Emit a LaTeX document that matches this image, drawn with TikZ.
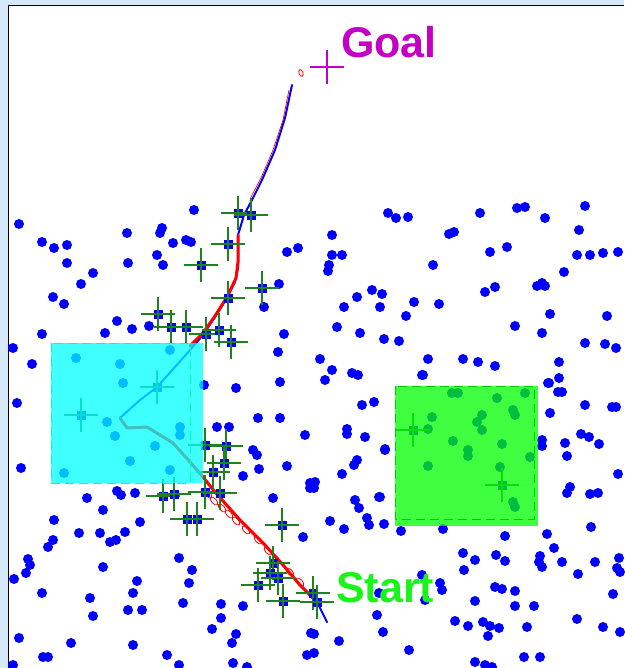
\documentclass[tikz,border=0pt]{standalone}
\usepackage{fontspec}
\setmainfont{Liberation Sans}
\usetikzlibrary{positioning}

\definecolor{framebg}{RGB}{214,232,250}
\definecolor{obstblue}{RGB}{0,0,255}
\definecolor{crossgreen}{RGB}{30,130,30}
\definecolor{goalmag}{RGB}{195,0,195}
\definecolor{startgreen}{RGB}{25,245,25}
\definecolor{boxcyan}{RGB}{0,255,255}
\definecolor{boxgreen}{RGB}{0,255,0}

\tikzset{
  obst/.style={fill=obstblue},
  hitcross/.style={draw=crossgreen,line width=1.6pt},
  pathblue/.style={draw=obstblue,line width=2pt,line cap=round,line join=round},
  pathred/.style={draw=red,line width=3pt,line cap=round,line join=round},
  region/.style={fill opacity=0.75},
  bigtext/.style={font=\fontsize{43}{43}\selectfont\bfseries,inner sep=0pt}
}

\begin{document}
\begin{tikzpicture}[x=1pt,y=-1pt]
\useasboundingbox (0,0) rectangle (624,668);
% frame
\fill[framebg] (0,0) rectangle (624,668);
\fill[white] (9,6) rectangle (624,668);
\draw[black,line width=1.5pt] (8.5,668) -- (8.5,5.5) -- (624,5.5);

% obstacles
\foreach \x/\y in {19/224,194/210,42/242,54/248,67/245,67/263,127/233,128/263,162/228,160/233,
  173/243,186/240,191/242,157/255,163/265,93/273,81/284,53/297,64/304,117/321,132/329,105/333,
  149/326,42/334,13/348,32/364,17/403,287/252,298/248,279/284,264/307,284/334,278/352,280/382,
  236/388,204/385,258/418,280/418,217/427,229/427,
  76/358,120/364,170/350,123/383,107/422,115/436,180/427,180/435,155/446,130/461,64/473,170/470,
  388/213,396/218,408/217,480/213,517/208,525/207,545/218,585/206,332/235,449/234,454/232,579/230,
  332/255,342/255,329/265,328/271,490/252,507/247,577/255,590/255,603/253,618/252,433/265,564/272,
  372/290,382/294,357/297,344/307,380/307,414/302,439/304,406/316,485/292,495/287,537/286,542/283,
  545/286,550/314,607/316,515/326,542/333,337/327,360/333,384/339,399/341,585/343,605/344,616/348,
  320/359,332/370,325/380,352/373,358/375,428/359,423/375,463/359,478/362,495/366,559/362,559/378,
  549/383,562/392,362/405,374/402,550/413,585/405,612/407,616/407,347/429,
  422/375,385/450,548/383,558/392,380/497,384/524,401/531,443/529,505/536,547/534,
  21/468,87/498,117/491,121/495,135/493,103/510,54/520,140/522,79/533,100/533,125/532,110/542,
  116/540,53/540,48/547,28/559,30/565,26/573,14/579,103/567,179/558,192/570,189/583,137/581,
  133/593,42/593,90/598,128/610,142/610,93/616,183/603,221/604,221/618,243/606,212/629,236/634,
  232/643,19/638,71/643,133/645,43/657,48/657,167/655,13/665,179/665,233/663,247/667,305/435,
  253/450,257/455,243/476,259/469,287/466,310/483,310/488,273/498,303/537,311/633,307/655,
  347/434,365/437,385/449,357/460,354/465,342/474,315/482,314/488,355/500,359/508,379/497,
  367/518,369/525,330/521,344/529,542/440,542/446,565/443,581/434,589/437,599/444,567/456,
  618/474,570/487,567/493,590/494,598/493,591/527,554/548,540/556,539/562,542/567,562/562,
  595/562,619/558,617/568,620/572,578/574,463/553,475/560,464/570,496/555,505/561,422/575,
  440/583,442/590,495/587,502/589,515/591,475/601,515/606,534/606,613/594,377/615,455/621,
  468/626,483/622,490/626,499/628,488/636,527/627,577/619,603/627,620/632,383/632,339/641,
  314/634,409/650,524/657,540/657,475/662,485/665,492/667,314/653,379/593,425/600,
  452/393,458/393,497/398,525/393,513/410,515/415,432/417,428/429,482/415,477/422,482/430,
  453/441,502/444,468/450,468/456,530/457,500/467,428/466,513/502,515/507}
  \fill[obst] (\x,\y) circle (5pt);

% planned path
\draw[pathblue] (327,622) -- (317,602) -- (300,585) -- (283,565) -- (265,545) -- (240,520)
  -- (215,492) -- (203,477) -- (190,462) -- (173,443) -- (147,427) -- (127,428) -- (120,418)
  -- (140,400) -- (157,387) -- (175,367) -- (190,350) -- (203,335) -- (215,317) -- (227,298)
  -- (235,282) -- (238,268) -- (238,235) -- (244,215) -- (252,200) -- (262,180) -- (275,150)
  -- (285,118) -- (292,85);
\draw[red,line width=0.7pt] (289,90) -- (283,120) -- (273,150) -- (261,178) -- (250,199);
\draw[pathred] (317,602) -- (300,585) -- (283,565) -- (265,545) -- (240,520) -- (215,492)
  -- (203,477) -- (190,462) -- (173,443) -- (147,427) -- (127,428) -- (120,418);
\draw[pathred] (190,346) -- (203,333) -- (215,316) -- (227,297) -- (236,278) -- (238,262) -- (238,235);
\foreach \x/\y in {208/494,214/501,222/508,229/514,236/521,246/530,258/540,268/551,276/559,
  290/572,300/582}
  \draw[red,line width=0.8pt,rotate around={-48:(\x,\y)}] (\x,\y) ellipse (5pt and 2.5pt);
\draw[red,line width=0.8pt,rotate around={-70:(301,73)}] (301,73) ellipse (3.5pt and 2pt);

% sampled nodes
\foreach \x/\y in {238/213,251/215,228/244,201/265,228/298,262/288,158/314,171/327,186/327,
  206/334,219/330,231/342,157/387,81/415,205/445,226/446,224/463,213/472,205/492,220/493,
  163/496,174/494,187/519,197/519,282/525,273/563,270/573,278/578,258/585,283/601,313/593,
  317/602,413/430,502/485} {
  \fill[obst] (\x-4.5,\y-4.5) rectangle (\x+4.5,\y+4.5);
  \draw[hitcross] (\x-17,\y) -- (\x+17,\y) (\x,\y-17) -- (\x,\y+17);
}

% regions
\fill[boxcyan,region] (51,343) rectangle (203,483);
\draw[boxcyan!70!green,dashed,dash pattern=on 9pt off 5pt,line width=1pt] (51,343) rectangle (190,483);
\fill[boxgreen,region] (395,386) rectangle (538,526);
\draw[boxgreen!80!black,dashed,dash pattern=on 9pt off 5pt,line width=1pt] (395,386) rectangle (534,519);

% goal and start
\coordinate (goalpt) at (327,67);
\draw[goalmag,line width=2pt] ([xshift=-17pt]goalpt) -- ([xshift=17pt]goalpt)
  ([yshift=-17pt]goalpt) -- ([yshift=17pt]goalpt);
\node[bigtext,text=goalmag,anchor=base west] (goal) at (341,58) {Goal};
\node[bigtext,text=startgreen,anchor=base west] (start) at (336,602) {Start};
\end{tikzpicture}
\end{document}
